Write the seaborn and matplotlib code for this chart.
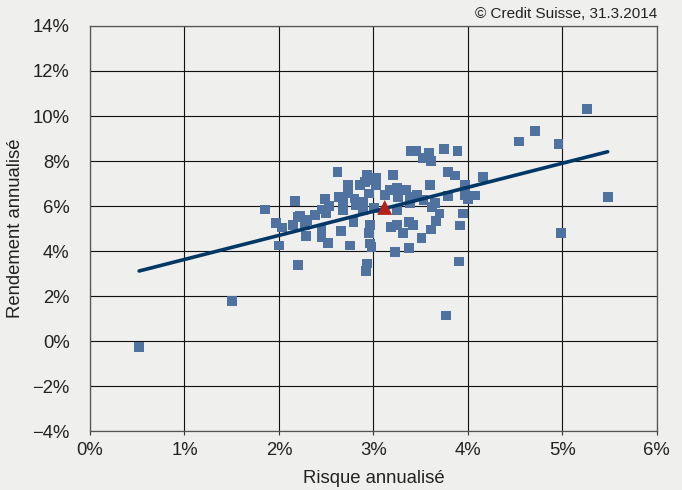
import matplotlib
matplotlib.use("Agg")
import matplotlib.pyplot as plt
import seaborn as sns
import pandas as pd
import numpy as np

# Fund data: annualised risk (%) and annualised return (%)
risk = [0.52, 1.50, 1.855, 1.968, 2.032, 2.00, 2.20, 2.17, 2.22, 2.20, 2.15, 2.30,
        2.275, 2.38, 2.29, 2.45, 2.45, 2.52, 2.49, 2.45, 2.53, 2.50, 2.63, 2.68,
        2.68, 2.66, 2.75, 2.62, 2.73, 2.73, 2.80, 2.82, 2.79, 2.86, 2.93, 2.91,
        2.96, 3.03, 3.03, 2.95, 2.89, 2.89, 2.96, 2.95, 2.96, 2.98, 2.93, 2.92,
        3.005, 3.21, 3.12, 3.17, 3.25, 3.26, 3.35, 3.25, 3.19, 3.25, 3.31, 3.38,
        3.42, 3.38, 3.23, 3.40, 3.45, 3.39, 3.46, 3.39,
        5.26, 4.71, 4.54, 4.96, 5.48, 4.99, 3.91, 3.59, 3.75, 3.89, 3.52, 3.61,
        3.79, 3.86, 4.16, 3.60, 3.97, 3.79, 3.97, 4.00, 4.08, 3.65, 3.62, 3.70,
        3.95, 3.66, 3.92, 3.61, 3.51, 3.53, 3.77]
ret = [-0.27, 1.78, 5.85, 5.23, 5.05, 4.25, 3.38, 6.22, 5.56, 5.50, 5.16, 5.38,
       5.16, 5.60, 4.67, 4.93, 4.64, 4.37, 6.30, 5.85, 6.00, 5.67, 6.41, 6.12,
       5.82, 4.89, 4.25, 7.50, 6.93, 6.59, 6.34, 6.04, 5.30, 6.93, 7.38, 7.08,
       7.16, 7.23, 6.93, 6.56, 6.19, 5.82, 5.16, 4.79, 4.34, 4.19, 3.45, 3.13,
       5.90, 7.38, 6.49, 6.71, 6.79, 6.41, 6.71, 5.82, 5.08, 5.16, 4.79, 5.30,
       5.16, 4.12, 3.96, 8.44, 8.44, 6.41, 6.49, 6.12,
       10.30, 9.32, 8.87, 8.76, 6.39, 4.79, 3.54, 8.37, 8.52, 8.44, 8.13, 7.99,
       7.50, 7.36, 7.28, 6.92, 6.93, 6.44, 6.49, 6.31, 6.47, 6.12, 5.97, 5.67,
       5.67, 5.32, 5.14, 4.96, 4.58, 6.27, 1.14]

# Highlighted portfolio
hl_risk = [3.12]
hl_ret = [5.94]

x_ticks = [0, 1, 2, 3, 4, 5, 6]
y_ticks = [-4, -2, 0, 2, 4, 6, 8, 10, 12, 14]

df = pd.DataFrame({"risk": risk, "ret": ret})
hl = pd.DataFrame({"risk": hl_risk, "ret": hl_ret})

sns.set_theme(style="white")
plt.rcParams["font.family"] = ["Liberation Sans", "DejaVu Sans"]

bg = "#efefed"
txt = "#222222"
fig = plt.figure(figsize=(6.82, 4.90), dpi=100, facecolor=bg)
ax = fig.add_axes([0.132, 0.120, 0.831, 0.827])
ax.set_facecolor(bg)

sns.scatterplot(data=df, x="risk", y="ret", marker="s", s=50, color="#4f72a0",
                edgecolor="none", linewidth=0, ax=ax, zorder=3)
sns.regplot(data=df, x="risk", y="ret", scatter=False, ci=None, truncate=True,
            line_kws={"color": "#033866", "lw": 2.6, "zorder": 4}, ax=ax)
sns.scatterplot(data=hl, x="risk", y="ret", marker="^", s=115, color="#b0231b",
                edgecolor="none", linewidth=0, ax=ax, zorder=5)

ax.set_xlim(0, 6)
ax.set_ylim(-4, 14)
ax.set_xticks(x_ticks)
ax.set_xticklabels([f"{v}%" for v in x_ticks])
ax.set_yticks(y_ticks)
ax.set_yticklabels([f"{v}%".replace("-", "\u2212") for v in y_ticks])
ax.grid(True, color="#111111", lw=0.8)
ax.set_axisbelow(True)
for sp in ax.spines.values():
    sp.set_color("#555555")
    sp.set_linewidth(0.9)
ax.tick_params(axis="x", bottom=True, length=3, width=0.8, color="#333333",
               labelsize=13.3, labelcolor=txt, pad=4.5)
ax.tick_params(axis="y", left=False, labelsize=13.3, labelcolor=txt, pad=8.6)
ax.set_xlabel("Risque annualisé", fontsize=13.3, color=txt, labelpad=8.5)
ax.set_ylabel("Rendement annualisé", fontsize=13.3, color=txt)
ax.yaxis.set_label_coords(-0.117, 0.5)

fig.text(0.963, 0.985, "© Credit Suisse, 31.3.2014", ha="right", va="top",
         fontsize=11, color=txt)

fig.savefig("out.png", dpi=100, facecolor=bg)
